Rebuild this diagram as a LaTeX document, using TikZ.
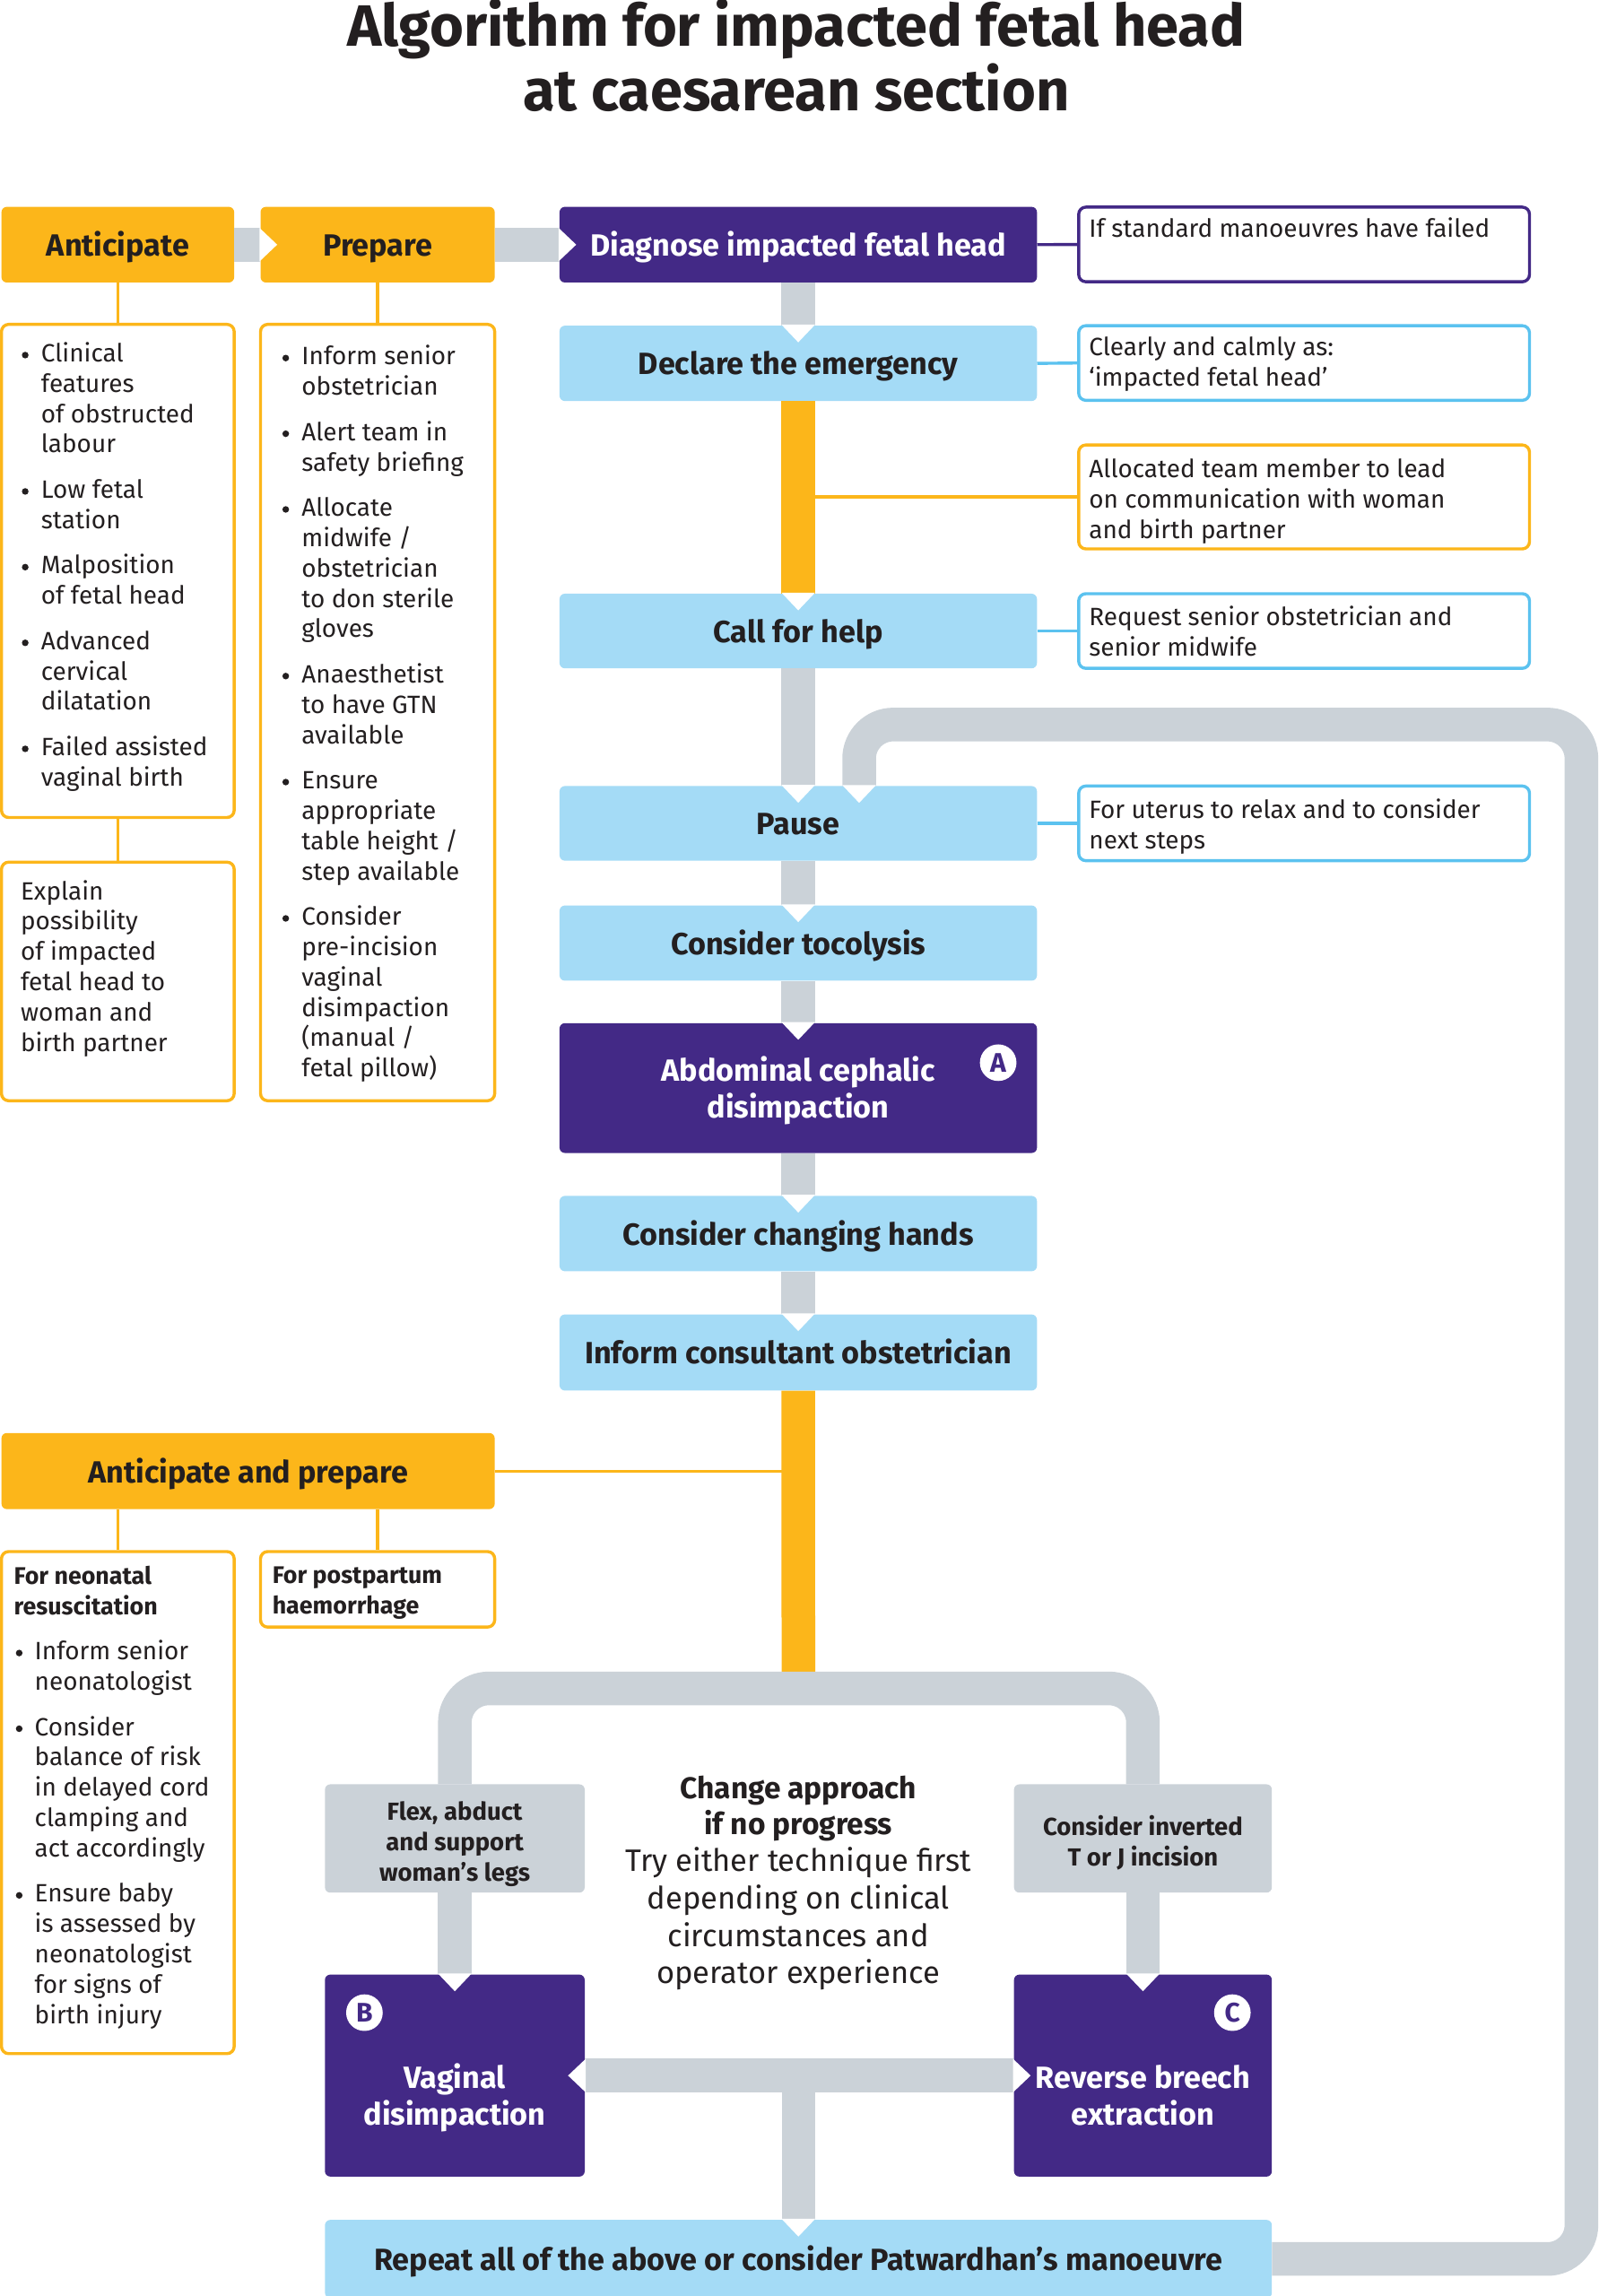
\documentclass[tikz,border=0pt]{standalone}
\usepackage{fontspec}
\setmainfont{Fira Sans}
\usetikzlibrary{calc}
\definecolor{orng}{HTML}{FCB61A}
\definecolor{purp}{HTML}{432986}
\definecolor{lblu}{HTML}{A4DBF6}
\definecolor{nblu}{HTML}{5BC2EF}
\definecolor{gry}{HTML}{CBD2D8}
\definecolor{ink}{HTML}{231F20}
\newcommand{\fl}{\rule{0pt}{0.85em}}
\newcommand{\st}{\rule[-0.25em]{0pt}{1.25em}}
\newcommand{\stlast}{\rule[-0.25em]{0pt}{0.25em}}
\newcommand{\stg}{\rule[-0.25em]{0pt}{1.46em}}
\newcommand{\stm}{\rule[-0.25em]{0pt}{1em}}
\newcommand{\dotb}{\tikz[baseline={(0pt,-7.6pt)}]\fill[ink] (0pt,0pt) circle (3.7pt);}
\newcommand{\B}{\makebox[24.5pt][l]{\hspace*{3pt}\dotb}}
\newcommand{\I}{\hspace*{24.5pt}}
\newcommand{\Bn}{\makebox[23pt][l]{\hspace*{2pt}\dotb}}
\newcommand{\In}{\hspace*{23pt}}
\newcommand{\fT}{\fontsize{65}{72}\selectfont\bfseries}
\newcommand{\fH}{\fontsize{34.2}{41}\selectfont\bfseries}
\newcommand{\fb}{\fontsize{27.9}{33.8}\selectfont}
\newcommand{\fbb}{\fontsize{26.8}{33.8}\selectfont\bfseries}
\newcommand{\fg}{\fontsize{27.5}{34}\selectfont\bfseries}
\newcommand{\fc}{\fontsize{34.5}{41.6}\selectfont}
\newcommand{\fcb}{\fontsize{33.5}{40.8}\selectfont\bfseries}
\newcommand{\bx}[7]{%
  \pgfmathsetmacro{\bxw}{(#5-#3)*1.632}%
  \pgfmathsetmacro{\bxh}{(#6-#4)*1.632}%
  \node[#2, minimum width=\bxw pt, minimum height=\bxh pt, inner sep=0pt] (#1) at ({(#3+#5)/2},{(#4+#6)/2}) {#7};%
}
\newcommand{\ntchD}[1]{\fill[white] ($(#1)+(-11.5,-0.6)$) -- ($(#1)+(11.5,-0.6)$) -- ($(#1)+(0,11.5)$) -- cycle;}
\newcommand{\ntchR}[1]{\fill[white] ($(#1)+(-0.6,-11.5)$) -- ($(#1)+(-0.6,11.5)$) -- ($(#1)+(11.5,0)$) -- cycle;}
\newcommand{\ntchL}[1]{\fill[white] ($(#1)+(0.6,-11.5)$) -- ($(#1)+(0.6,11.5)$) -- ($(#1)+(-11.5,0)$) -- cycle;}
\begin{document}
\begin{tikzpicture}[x=1.632pt,y=-1.632pt,
  obox/.style={fill=orng, rounded corners=6pt, text=ink, font=\fH, align=center},
  pbox/.style={fill=purp, rounded corners=6pt, text=white, font=\fH, align=center},
  bbox/.style={fill=lblu, rounded corners=6pt, text=ink, font=\fH, align=center},
  gbox/.style={fill=gry, rounded corners=6pt, text=ink, font=\fg, align=center},
  nbox/.style={draw=#1, line width=3.4pt, fill=white, rounded corners=8pt},
  lbox/.style={draw=orng, line width=3.4pt, fill=white, rounded corners=8pt},
  ntext/.style={anchor=north west, align=left, inner sep=0pt, font=\fb, text=ink},
  circ/.style={circle, fill=white, minimum size=40.8pt, inner sep=0pt, text=purp, font=\fontsize{30}{30}\selectfont\bfseries},
  gbar/.style={draw=gry, line width=37.5pt},
  obar/.style={draw=orng, line width=37.5pt},
  thin/.style={draw=#1, line width=3.4pt}]
\useasboundingbox (0,0) rectangle (1092,1568.6);
% title
\node[anchor=base, font=\fT, text=ink, inner sep=0pt] (title1) at (544,31.5) {Algorithm for impacted fetal head};
\node[anchor=base, font=\fT, text=ink, inner sep=0pt] (title2) at (544,75.5) {at caesarean section};
% top row
\bx{ant}{obox}{1}{141.3}{160}{193}{\st Anticipate}
\bx{prep}{obox}{178}{141.3}{338}{193}{\st Prepare}
\bx{diag}{pbox}{382.3}{141.3}{708.5}{193}{\st Diagnose impacted fetal head}
\bx{n1}{nbox=purp}{737}{141.5}{1045}{192.5}{}
\node[ntext] (n1t) at (744,147.5) {\fl If standard manoeuvres have failed};
% left lists
\bx{antl}{lbox}{1}{221.6}{160}{558.5}{}
\node[ntext] (antlt) at (13,232.6) {\fl\B Clinical\\\I features\\\I of obstructed\\\I labour\\[16.8pt]\B Low fetal\\\I station\\[16.8pt]\B Malposition\\\I of fetal head\\[16.8pt]\B Advanced\\\I cervical\\\I dilatation\\[16.8pt]\B Failed assisted\\\I vaginal birth};
\bx{expl}{lbox}{1}{589}{160}{752}{}
\node[ntext] (explt) at (14,600) {\fl Explain\\possibility\\of impacted\\fetal head to\\woman and\\birth partner};
\bx{prepl}{lbox}{178}{221.6}{338}{752}{}
\node[ntext] (preplt) at (191,234.6) {\fl\B Inform senior\\\I obstetrician\\[16.8pt]\B Alert team in\\\I safety briefing\\[16.8pt]\B Allocate\\\I midwife /\\\I obstetrician\\\I to don sterile\\\I gloves\\[16.8pt]\B Anaesthetist\\\I to have GTN\\\I available\\[16.8pt]\B Ensure\\\I appropriate\\\I table height /\\\I step available\\[16.8pt]\B Consider\\\I pre-incision\\\I vaginal\\\I disimpaction\\\I (manual /\\\I fetal pillow)};
% centre column
\bx{decl}{bbox}{382.3}{222.5}{708.5}{274}{\st Declare the emergency}
\bx{n2}{nbox=nblu}{737}{222.5}{1045}{273.5}{}
\node[ntext] (n2t) at (744,228.3) {\fl Clearly and calmly as:\\‘impacted fetal head’};
\bx{n3}{nbox=orng}{737}{304}{1045}{375}{}
\node[ntext] (n3t) at (744,311.6) {\fl Allocated team member to lead\\on communication with woman\\and birth partner};
\bx{call}{bbox}{382.3}{405.6}{708.5}{456.6}{\st Call for help}
\bx{n4}{nbox=nblu}{737}{405.6}{1045}{456.6}{}
\node[ntext] (n4t) at (744,412.7) {\fl Request senior obstetrician and\\senior midwife};
\bx{pause}{bbox}{382.3}{537}{708.5}{588}{\st Pause}
\bx{n5}{nbox=nblu}{737}{537}{1045}{588}{}
\node[ntext] (n5t) at (744,544.7) {\fl For uterus to relax and to consider\\next steps};
\bx{toco}{bbox}{382.3}{618.6}{708.5}{670}{\st Consider tocolysis}
\bx{abd}{pbox}{382.3}{699}{708.5}{787.7}{\st Abdominal cephalic\\\stlast disimpaction}
\node[circ] (ca) at (682,726) {A};
\bx{chg}{bbox}{382.3}{817}{708.5}{868.5}{\st Consider changing hands}
\bx{inf}{bbox}{382.3}{898}{708.5}{950}{\st Inform consultant obstetrician}
% lower left
\bx{anp}{obox}{1}{979}{338}{1031}{\st Anticipate and prepare}
\bx{neo}{lbox}{1}{1060}{160}{1403}{}
\node[ntext] (neot) at (9.5,1067.6) {\fl{\fbb For neonatal}\\{\fbb resuscitation}\\[16.8pt]\Bn Inform senior\\\In neonatologist\\[16.8pt]\Bn Consider\\\In balance of risk\\\In in delayed cord\\\In clamping and\\\In act accordingly\\[16.8pt]\Bn Ensure baby\\\In is assessed by\\\In neonatologist\\\In for signs of\\\In birth injury};
\bx{pph}{lbox}{178}{1060}{338}{1111.6}{}
\node[ntext, font=\fbb] (ppht) at (186,1067.6) {\fl For postpartum\\haemorrhage};
% lower section
\bx{flex}{gbox}{222}{1219}{399.5}{1293}{\stg Flex, abduct\\\stm and support\\\stm woman’s legs}
\bx{torj}{gbox}{692.8}{1219}{869}{1293}{\stg Consider inverted\\\stm T or J incision}
\bx{vag}{pbox}{222}{1349}{399.5}{1487}{}
\node[font=\fH, text=white, align=center, inner sep=0pt] (vagt) at (310.75,1431.5) {\st Vaginal\\\stlast disimpaction};
\node[circ] (cb) at (249,1375) {B};
\bx{rev}{pbox}{692.8}{1349}{869}{1487}{}
\node[font=\fH, text=white, align=center, inner sep=0pt] (revt) at (780.9,1431.5) {\st Reverse breech\\\stlast extraction};
\node[circ] (cc) at (842,1375) {C};
\node[anchor=north, align=center, inner sep=0pt, font=\fcb, text=ink] (cht1) at (545.5,1211) {\fl Change approach\\if no progress};
\node[anchor=north, align=center, inner sep=0pt, font=\fc, text=ink] (cht2) at (545.5,1260.6) {\fl Try either technique first\\depending on clinical\\circumstances and\\operator experience};
\bx{rep}{bbox}{222}{1516.6}{869}{1570}{\st Repeat all of the above or consider Patwardhan’s manoeuvre}
% coordinates
\coordinate (lt) at (545.5,1153.5);
\coordinate (otop) at (545.5,1142);
\coordinate (pnotch) at (587,537);
\coordinate (lr1) at (1080.5,1543.3);
\coordinate (lr2) at (1080.5,495);
\coordinate (lr3) at (587,495);
% thin connectors
\draw[thin=orng] (ant.south) -- (antl.north);
\draw[thin=orng] (prep.south) -- (prepl.north);
\draw[thin=orng] (antl.south) -- (expl.north);
\draw[thin=purp] (diag.east) -- (n1.west);
\draw[thin=nblu] (decl.east) -- (n2.west);
\draw[thin=orng] (decl.south |- n3.west) -- (n3.west);
\draw[thin=nblu] (call.east) -- (n4.west);
\draw[thin=nblu] (pause.east) -- (n5.west);
\draw[thin=orng] (anp.east) -- (inf.south |- anp.east);
\draw[thin=orng] (anp.south -| neo.north) -- (neo.north);
\draw[thin=orng] (anp.south -| pph.north) -- (pph.north);
% thick bars
\draw[gbar] (ant.east) -- (prep.west);
\draw[gbar] (prep.east) -- (diag.west);
\draw[gbar] (diag.south) -- (decl.north);
\draw[obar] (decl.south) -- (call.north);
\draw[gbar] (call.south) -- (pause.north);
\draw[gbar] (pause.south) -- (toco.north);
\draw[gbar] (toco.south) -- (abd.north);
\draw[gbar] (abd.south) -- (chg.north);
\draw[gbar] (chg.south) -- (inf.north);
\draw[obar] (inf.south) -- (otop);
\draw[gbar, rounded corners=38pt] (flex.north) -- (flex.north |- lt) -- (torj.north |- lt) -- (torj.north);
\draw[gbar] (flex.south) -- (vag.north);
\draw[gbar] (torj.south) -- (rev.north);
\draw[gbar] (vag.east) -- (rev.west);
\draw[gbar] (rep.north |- vag.east) -- (rep.north);
\draw[gbar, rounded corners=38pt] (rep.east) -- (lr1) -- (lr2) -- (lr3) -- (pnotch);
% notches
\ntchR{prep.west}
\ntchR{diag.west}
\ntchD{decl.north}
\ntchD{call.north}
\ntchD{pause.north}
\ntchD{pnotch}
\ntchD{toco.north}
\ntchD{abd.north}
\ntchD{chg.north}
\ntchD{inf.north}
\ntchD{vag.north}
\ntchD{rev.north}
\ntchD{rep.north}
\ntchL{vag.east}
\ntchR{rev.west}
\end{tikzpicture}
\end{document}
